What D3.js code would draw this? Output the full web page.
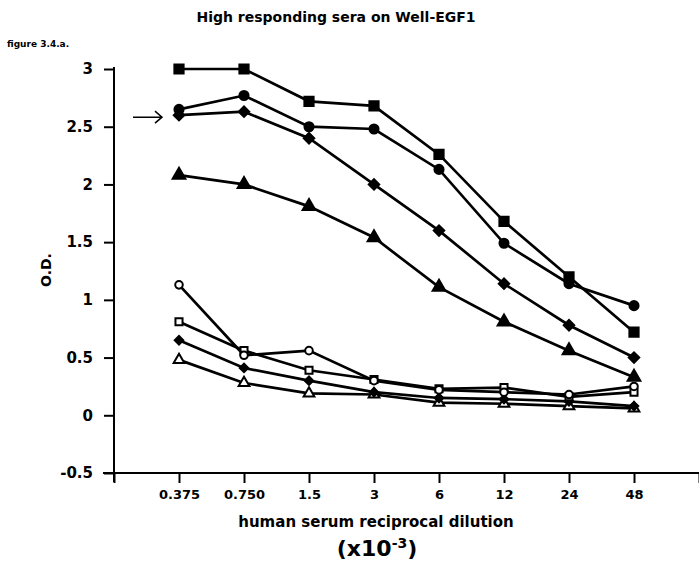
<!DOCTYPE html>
<html>
<head>
<meta charset="utf-8">
<script src="https://cdn.jsdelivr.net/npm/d3@7"></script>
<style>
  body { margin: 0; background: #fff; }
  svg { display: block; }
  text { font-family: "DejaVu Sans", Verdana, sans-serif; font-weight: bold; fill: #000; }
</style>
</head>
<body>
<svg id="chart" width="699" height="569"></svg>
<script>
// dilution categories (x 10^-3)
var dilutions = ["0.375", "0.750", "1.5", "3", "6", "12", "24", "48"];
var yTicks = [-0.5, 0, 0.5, 1, 1.5, 2, 2.5, 3];

// O.D. readings per serum
var sqFilled  = [3.00, 3.00, 2.72, 2.68, 2.26, 1.68, 1.20, 0.72];
var circFilled = [2.65, 2.77, 2.50, 2.48, 2.13, 1.49, 1.14, 0.95];
var diaFilled = [2.60, 2.63, 2.40, 2.00, 1.60, 1.14, 0.78, 0.50];
var triFilled = [2.08, 2.00, 1.81, 1.54, 1.11, 0.81, 0.56, 0.33];
var circOpen  = [1.13, 0.52, 0.56, 0.30, 0.22, 0.20, 0.18, 0.25];
var sqOpen    = [0.81, 0.56, 0.39, 0.31, 0.23, 0.24, 0.16, 0.20];
var diaSmall  = [0.65, 0.41, 0.30, 0.20, 0.15, 0.14, 0.12, 0.08];
var triOpen   = [0.48, 0.28, 0.19, 0.18, 0.11, 0.10, 0.08, 0.06];

// diamonds are drawn as squares turned 45deg
var series = [
    {vals: triOpen,   shape: d3.symbolTriangle, size: 50, fill: "#fff", rot: 0},
    {vals: diaSmall,  shape: d3.symbolSquare,   size: 36, fill: "#000", rot: 45},
    {vals: sqOpen,    shape: d3.symbolSquare,   size: 50, fill: "#fff", rot: 0},
    {vals: circOpen,  shape: d3.symbolCircle,   size: 45, fill: "#fff", rot: 0},
    {vals: triFilled, shape: d3.symbolTriangle, size: 70, fill: "#000", rot: 0},
    {vals: diaFilled, shape: d3.symbolSquare,   size: 55, fill: "#000", rot: 45},
    {vals: circFilled, shape: d3.symbolCircle,  size: 65, fill: "#000", rot: 0},
    {vals: sqFilled,  shape: d3.symbolSquare,   size: 85, fill: "#000", rot: 0}
];

var svg = d3.select("#chart");

var x = d3.scaleLinear().domain([0, 9]).range([114, 699]);
var y = d3.scaleLinear().domain([-0.5, 3]).range([473, 69]);

// title + figure number
svg.append("text")
    .attr("x", 336).attr("y", 22)
    .attr("text-anchor", "middle")
    .style("font-size", "14px")
    .text("High responding sera on Well-EGF1");

svg.append("text")
    .attr("x", 7).attr("y", 47)
    .style("font-size", "9px")
    .text("figure 3.4.a.");

// y axis
var yAxis = svg.append("g")
    .attr("transform", "translate(" + x(0) + ",0)")
    .call(d3.axisLeft(y).tickValues(yTicks).tickSize(10).tickPadding(11).tickSizeOuter(0)
        .tickFormat(function (d) { return d; }));
yAxis.select(".domain").attr("d", "M0," + (y(3) - 2) + "V" + (y(-0.5) + 9));
yAxis.selectAll("path, line").attr("stroke", "#000").attr("stroke-width", 2);
yAxis.selectAll("text").style("font-size", "15px").style("font-family", "\"DejaVu Sans\", sans-serif");

// x axis
var xAxis = svg.append("g")
    .attr("transform", "translate(0," + y(-0.5) + ")")
    .call(d3.axisBottom(x).tickValues(d3.range(0, 10)).tickSize(10).tickPadding(7).tickSizeOuter(0)
        .tickFormat(function (d) { return (d >= 1 && d <= 8) ? dilutions[d - 1] : ""; }));
xAxis.select(".domain").attr("d", "M" + (x(0) - 11) + ",0H699");
xAxis.selectAll("path, line").attr("stroke", "#000").attr("stroke-width", 2);
xAxis.selectAll("text").style("font-size", "13px").style("font-family", "\"DejaVu Sans\", sans-serif");

// axis titles
svg.append("text")
    .attr("transform", "translate(51," + 270 + ") rotate(-90)")
    .attr("text-anchor", "middle")
    .style("font-size", "14px")
    .text("O.D.");

svg.append("text")
    .attr("x", 376).attr("y", 527)
    .attr("text-anchor", "middle")
    .style("font-size", "15px")
    .text("human serum reciprocal dilution");

var exp = svg.append("text")
    .attr("x", 377).attr("y", 556)
    .attr("text-anchor", "middle")
    .style("font-size", "22px");
exp.append("tspan").text("(x10");
exp.append("tspan").attr("dy", -8).style("font-size", "14px").text("-3");
exp.append("tspan").attr("dy", 8).text(")");

// arrow annotation pointing at the diamond series
var ay = y(diaFilled[0]) + 2;
svg.append("path")
    .attr("d", "M" + (x(1) - 46) + "," + ay + "H" + (x(1) - 17) +
        "M" + (x(1) - 24) + "," + (ay - 6) + "L" + (x(1) - 17) + "," + ay + "L" + (x(1) - 24) + "," + (ay + 6))
    .attr("fill", "none").attr("stroke", "#000").attr("stroke-width", 1.5);

// lines and markers
var line = d3.line()
    .x(function (d, i) { return x(i + 1); })
    .y(function (d) { return y(d); });

series.forEach(function (s) {
    svg.append("path")
        .datum(s.vals)
        .attr("d", line)
        .attr("fill", "none")
        .attr("stroke", "#000")
        .attr("stroke-width", 2.7);

    svg.selectAll(null)
        .data(s.vals)
        .enter().append("path")
        .attr("transform", function (d, i) {
            return "translate(" + x(i + 1) + "," + y(d) + ") rotate(" + s.rot + ")";
        })
        .attr("d", d3.symbol().type(s.shape).size(s.size))
        .attr("fill", s.fill)
        .attr("stroke", "#000")
        .attr("stroke-width", 2);
});
</script>
</body>
</html>
